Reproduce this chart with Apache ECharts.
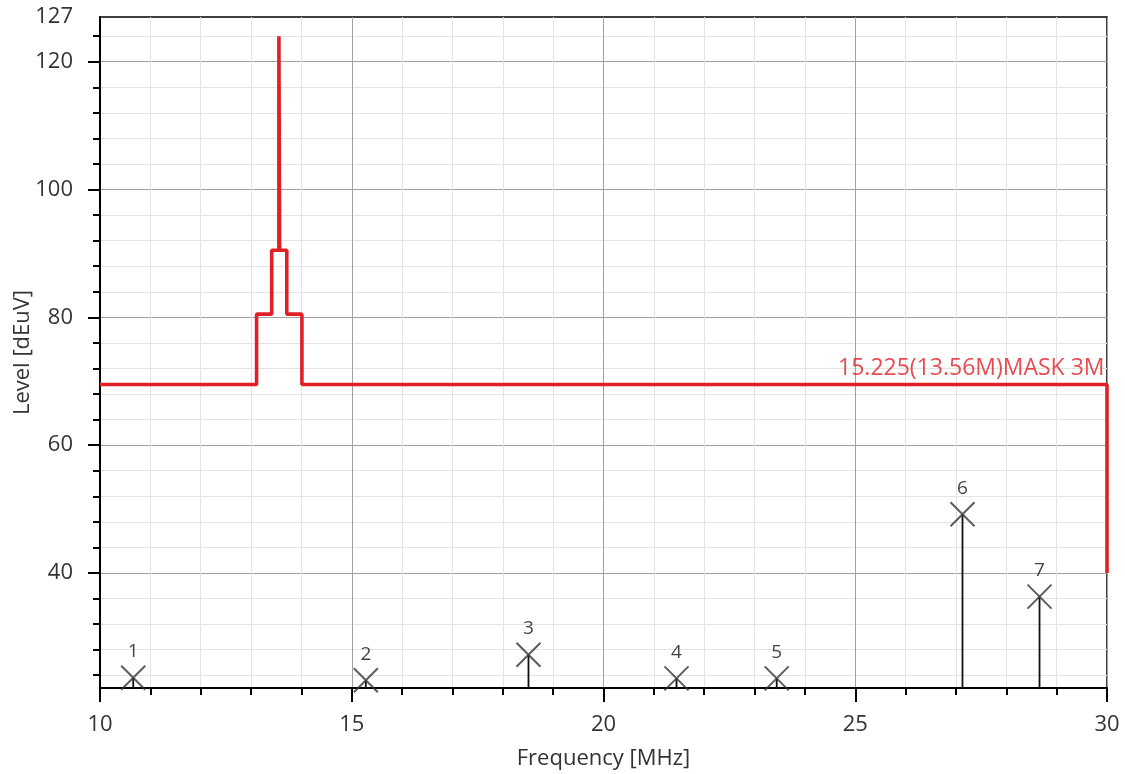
<!DOCTYPE html>
<html>
<head>
<meta charset="utf-8">
<script src="https://cdn.jsdelivr.net/npm/echarts@6/dist/echarts.min.js"></script>
<style>html,body{margin:0;padding:0;background:#fff;}#c{width:1125px;height:774px;}</style>
</head>
<body>
<div id="c"></div>
<script>
// ---- data ----
const maskFreq  = [10, 13.11, 13.11, 13.41, 13.41, 13.553, 13.553, 13.567, 13.567, 13.71, 13.71, 14.01, 14.01, 30, 30];
const maskLevel = [69.5, 69.5, 80.5, 80.5, 90.5, 90.5, 124, 124, 90.5, 90.5, 80.5, 80.5, 69.5, 69.5, 40];
const maskName = '15.225(13.56M)MASK 3M';
const markerFreq  = [10.66, 15.28, 18.51, 21.45, 23.44, 27.13, 28.66];
const markerLevel = [23.6, 23.2, 27.2, 23.5, 23.5, 49.2, 36.3];
const markerLabels = ['1', '2', '3', '4', '5', '6', '7'];
const yMajorTicks = [40, 60, 80, 100, 120];
const yLabelValues = [40, 60, 80, 100, 120, 127];
const yMinorTicks = [24, 28, 32, 36, 44, 48, 52, 56, 64, 68, 72, 76, 84, 88, 92, 96, 104, 108, 112, 116, 124];
const xMin = 10, xMax = 30, yMin = 22, yMax = 127;

const FONT = 'Open Sans';
const chart = echarts.init(document.getElementById('c'), null, {renderer: 'canvas'});

const maskData = maskFreq.map((f, i) => [f, maskLevel[i]]);
const markerData = markerFreq.map((f, i) => ({value: [f, markerLevel[i]], label: {formatter: markerLabels[i]}}));

const option = {
  backgroundColor: '#ffffff',
  animation: false,
  grid: {left: 100, right: 18, top: 17, bottom: 86, show: true, borderColor: '#000', borderWidth: 1.5,
    backgroundColor: 'transparent', containLabel: false, outerBoundsMode: 'none'},
  xAxis: {
    type: 'value', min: xMin, max: xMax, interval: 5,
    name: 'Frequency [MHz]', nameLocation: 'middle', nameGap: 60, nameMoveOverlap: false,
    nameTextStyle: {fontFamily: FONT, fontSize: 22, color: '#333'},
    axisLine: {show: true, lineStyle: {color: '#000', width: 2}},
    axisTick: {show: true, length: 14, lineStyle: {color: '#000', width: 2}},
    minorTick: {show: true, splitNumber: 5, length: 7, lineStyle: {color: '#000', width: 2}},
    axisLabel: {margin: 26, fontFamily: FONT, fontSize: 22, color: '#333'},
    splitLine: {show: true, lineStyle: {color: '#a0a0a0', width: 1}},
    minorSplitLine: {show: true, lineStyle: {color: '#e3e3e3', width: 1}}
  },
  yAxis: [{
    type: 'value', min: yMin, max: yMax, position: 'left',
    name: 'Level [dEuV]', nameLocation: 'middle', nameGap: 66, nameMoveOverlap: false,
    nameTextStyle: {fontFamily: FONT, fontSize: 22, color: '#333'},
    axisLine: {show: true, lineStyle: {color: '#000', width: 2}},
    axisTick: {show: true, length: 12, customValues: yMajorTicks, lineStyle: {color: '#000', width: 2}},
    axisLabel: {margin: 27, customValues: yLabelValues, fontFamily: FONT, fontSize: 22, color: '#333'},
    splitLine: {show: true, lineStyle: {color: '#a0a0a0', width: 1}}
  }, {
    type: 'value', min: yMin, max: yMax, position: 'left',
    axisLine: {show: false},
    axisTick: {show: true, length: 7, customValues: yMinorTicks, lineStyle: {color: '#000', width: 2}},
    axisLabel: {show: false},
    splitLine: {show: true, lineStyle: {color: '#e3e3e3', width: 1}}
  }],
  series: [{
    type: 'line', name: maskName, yAxisIndex: 0, data: maskData,
    symbol: 'none', lineStyle: {color: '#e01f27', width: 3.6}, z: 5
  }, {
    type: 'scatter', yAxisIndex: 0, data: [[maskFreq[maskFreq.length - 2], maskLevel[maskLevel.length - 2]]],
    symbolSize: 1, itemStyle: {color: 'rgba(0,0,0,0)'}, z: 6, silent: true,
    label: {show: true, formatter: maskName, position: 'left', distance: 2, offset: [0, -16],
      fontFamily: FONT, fontSize: 23, color: '#e01f27'}
  }, {
    type: 'custom', yAxisIndex: 0, data: markerData.map(d => d.value), z: 3,
    renderItem: function (params, api) {
      const p0 = api.coord([api.value(0), yMin]);
      const p1 = api.coord([api.value(0), api.value(1)]);
      return {type: 'line', shape: {x1: p0[0], y1: p0[1], x2: p1[0], y2: p1[1]}, style: {stroke: '#111', lineWidth: 1.8}};
    }
  }, {
    type: 'scatter', yAxisIndex: 0, data: markerData, z: 4,
    symbol: 'path://M0,0L10,10M10,0L0,10', symbolSize: 24,
    itemStyle: {color: 'none', borderColor: '#333', borderWidth: 2},
    label: {show: true, position: 'top', distance: 2, fontFamily: FONT, fontSize: 19, color: '#111'}
  }]
};
chart.setOption(option);
</script>
</body>
</html>
